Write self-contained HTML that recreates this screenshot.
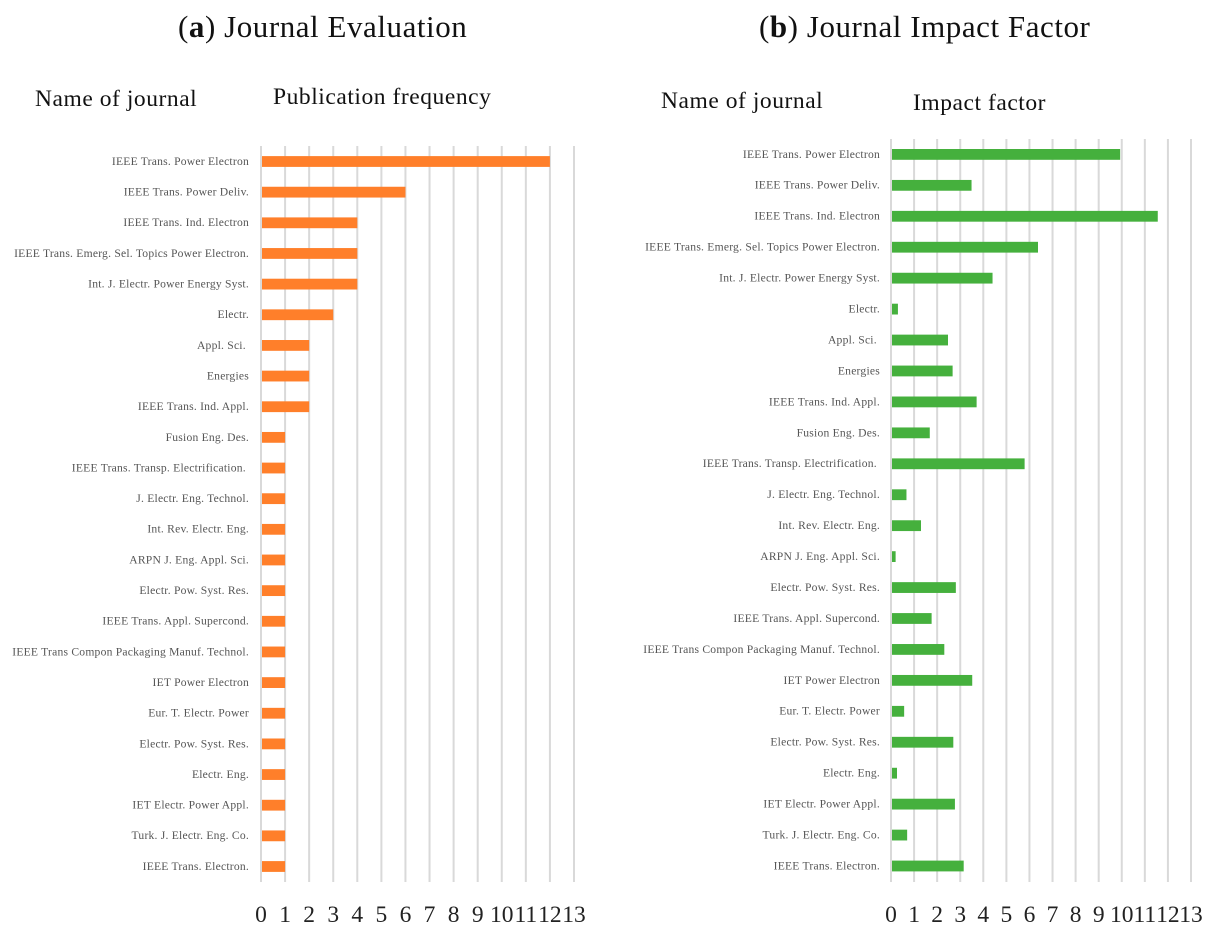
<!DOCTYPE html>
<html lang="en">
<head>
<meta charset="utf-8">
<title>Journal Evaluation and Impact Factor</title>
<style>
html,body{margin:0;padding:0;background:#fff;}
svg{display:block;font-family:"Liberation Serif",serif;}
.title{font-size:31px;fill:#111;letter-spacing:.55px;}
.head{font-size:23.5px;fill:#111;letter-spacing:.55px;}
.cat{font-size:11.6px;fill:#555;text-anchor:end;letter-spacing:.22px;}
.tick{font-size:23.5px;fill:#222;text-anchor:middle;}
</style>
</head>
<body>
<svg id="fig" xmlns="http://www.w3.org/2000/svg" width="1221" height="942" viewBox="0 0 1221 942">
  <text class="title" x="178" y="37">(<tspan font-weight="bold">a</tspan>) Journal Evaluation</text>
  <text class="title" x="759" y="37">(<tspan font-weight="bold">b</tspan>) Journal Impact Factor</text>
  <text class="head" x="35" y="106">Name of journal</text>
  <text class="head" x="273" y="104">Publication frequency</text>
  <text class="head" x="661" y="108">Name of journal</text>
  <text class="head" x="913" y="110">Impact factor</text>
  <g id="panel-a"></g>
  <g id="panel-b"></g>
</svg>
<script>
const journals = ["IEEE Trans. Power Electron","IEEE Trans. Power Deliv.","IEEE Trans. Ind. Electron","IEEE Trans. Emerg. Sel. Topics Power Electron.","Int. J. Electr. Power Energy Syst.","Electr.","Appl. Sci.\u00a0","Energies","IEEE Trans. Ind. Appl.","Fusion Eng. Des.","IEEE Trans. Transp. Electrification.\u00a0","J. Electr. Eng. Technol.","Int. Rev. Electr. Eng.","ARPN J. Eng. Appl. Sci.","Electr. Pow. Syst. Res.","IEEE Trans. Appl. Supercond.","IEEE Trans Compon Packaging Manuf. Technol.","IET Power Electron","Eur. T. Electr. Power","Electr. Pow. Syst. Res.","Electr. Eng.","IET Electr. Power Appl.","Turk. J. Electr. Eng. Co.","IEEE Trans. Electron."];
const frequencyValues = [12,6,4,4,4,3,2,2,2,1,1,1,1,1,1,1,1,1,1,1,1,1,1,1];
const impactValues = [9.93,3.49,11.56,6.37,4.4,0.3,2.47,2.67,3.71,1.68,5.79,0.67,1.3,0.2,2.81,1.76,2.31,3.52,0.57,2.7,0.26,2.77,0.7,3.15];
const tickLabels = [0,1,2,3,4,5,6,7,8,9,10,11,12,13];

const NS = "http://www.w3.org/2000/svg";

function drawChart(groupId, values, color, xAt0, xAt13, firstRowY, lastRowY, gridTop, gridBottom, tickLabelY, labelGap) {
  const group = document.getElementById(groupId);
  const xScale = v => xAt0 + (xAt13 - xAt0) * v / 13;
  const yScale = i => firstRowY + (lastRowY - firstRowY) * i / (journals.length - 1);

  tickLabels.forEach(t => {
    const grid = document.createElementNS(NS, "line");
    grid.setAttribute("x1", xScale(t));
    grid.setAttribute("x2", xScale(t));
    grid.setAttribute("y1", gridTop);
    grid.setAttribute("y2", gridBottom);
    grid.setAttribute("stroke", "#d9d9d9");
    grid.setAttribute("stroke-width", "2");
    
    
    group.appendChild(grid);

    const label = document.createElementNS(NS, "text");
    label.setAttribute("class", "tick");
    label.setAttribute("x", xScale(t));
    label.setAttribute("y", tickLabelY);
    label.textContent = t;
    
    
    group.appendChild(label);
  });

  journals.forEach((name, i) => {
    const cat = document.createElementNS(NS, "text");
    cat.setAttribute("class", "cat");
    cat.setAttribute("x", xAt0 - labelGap);
    cat.setAttribute("y", yScale(i) + 3.4);
    cat.textContent = name;
    
    
    group.appendChild(cat);

    const bar = document.createElementNS(NS, "rect");
    bar.setAttribute("x", xScale(0) + 1);
    bar.setAttribute("y", yScale(i) - 5.4);
    bar.setAttribute("width", Math.max(0, xScale(values[i]) - xScale(0) - 1));
    bar.setAttribute("height", 10.8);
    bar.setAttribute("fill", color);
    
    
    group.appendChild(bar);
  });
}

drawChart("panel-a", frequencyValues, "#ff7f2a", 261, 574, 161.5, 866.5, 146, 882, 922, 12);
drawChart("panel-b", impactValues, "#45b03d", 891, 1191, 154.4, 866, 139, 882, 922, 11);
</script>
</body>
</html>
